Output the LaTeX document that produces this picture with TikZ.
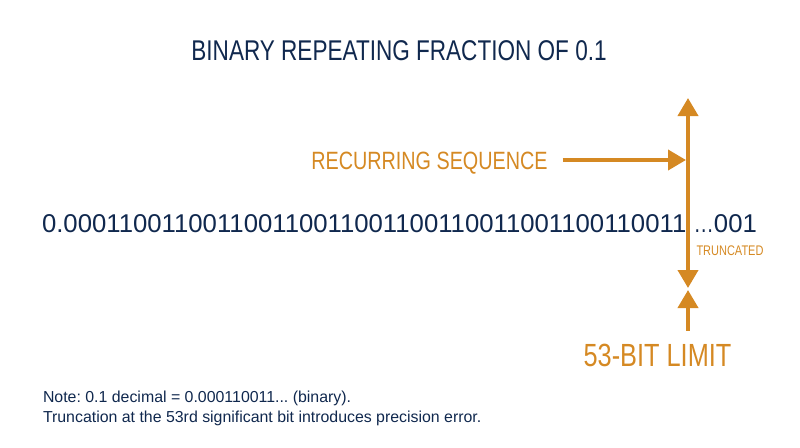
\documentclass[tikz,border=0pt]{standalone}
\usepackage{fontspec}
\setmainfont{Liberation Sans}
\newfontfamily\narrowfont[FakeStretch=0.79]{Liberation Sans}
\usetikzlibrary{arrows.meta,positioning}
\definecolor{navy}{RGB}{16,40,78}
\definecolor{amber}{RGB}{213,137,35}
\frenchspacing

\begin{document}
\begin{tikzpicture}[x=0.025cm, y=-0.025cm,
  every node/.style = {inner sep=0pt, outer sep=0pt},
  heading/.style = {font=\narrowfont\fontsize{20.3}{24}\selectfont, text=navy},
  bits/.style = {font=\fontsize{18.3}{22}\selectfont, text=navy},
  callout/.style = {font=\narrowfont\fontsize{17.8}{21}\selectfont, text=amber},
  bitlimit/.style = {font=\narrowfont\fontsize{22.8}{27}\selectfont, text=amber},
  tag/.style = {font=\narrowfont\fontsize{9.9}{12}\selectfont, text=amber},
  note/.style = {font=\fontsize{11.3}{14}\selectfont, text=navy},
  pointer/.style = {draw=amber, line width=2.8pt},
  >={Triangle[length=12.8pt,width=14.2pt]}]
  \useasboundingbox (0,0) rectangle (800,447);

  \node[heading, anchor=base] (title) at (399,60.5) {BINARY REPEATING FRACTION OF 0.1};

  \node[bits, anchor=base west] (fraction) at (42,232)
    {0.000110011001100110011001100110011001100110011 {\narrowfont …}001};

  \node[callout, anchor=base] (recur) at (429.5,169) {RECURRING SEQUENCE};
  \node[tag, anchor=base] (cut) at (730,255) {TRUNCATED};
  \node[bitlimit, anchor=base] (limit) at (657.5,366) {53-BIT LIMIT};

  % the 53-bit boundary
  \coordinate (top) at (688,98);
  \coordinate (bottom) at (688,288);
  \coordinate (hit) at (686,160);
  \coordinate (floor) at (688,290);

  \draw[pointer, <->] (top) -- (bottom);
  \draw[pointer, ->, shorten <=10.6pt] (recur.east |- hit) -- (hit);
  \draw[pointer, ->, shorten <=9.2pt] (limit.north -| floor) -- (floor);

  \node[note, anchor=base west] (note1) at (43,402)
    {Note: 0.1 decimal = 0.000110011... (binary).};
  \node[note, anchor=base west] (note2) at (43,422)
    {Truncation at the 53rd significant bit introduces precision error.};
\end{tikzpicture}
\end{document}
